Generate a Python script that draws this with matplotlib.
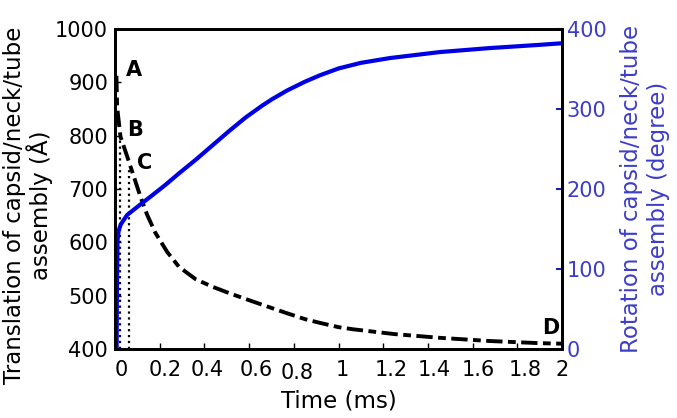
import numpy as np
import matplotlib.pyplot as plt
import matplotlib.transforms as mtransforms

plt.rcParams['font.family'] = ['DejaVu Sans']

# translation of the assembly (left axis)
t_trans = [0.006, 0.009, 0.024, 0.054, 0.084, 0.113, 0.143, 0.18, 0.233, 0.286,
           0.36, 0.434, 0.509, 0.583, 0.617, 0.7, 0.77, 0.85, 0.917, 1.0,
           1.065, 1.25, 1.454, 1.678, 1.9, 2.0]
translation = [912, 854, 798, 761, 723, 686, 652, 618, 582, 554,
               531, 517, 505, 494, 489, 477, 467, 456, 449, 441,
               437, 428, 421, 415, 411, 410]

# rotation of the assembly (right axis)
t_rot = [0.007, 0.008, 0.011, 0.016, 0.026, 0.054, 0.106, 0.166, 0.225, 0.284,
         0.359, 0.434, 0.509, 0.583, 0.658, 0.702, 0.77, 0.85, 0.917, 1.0,
         1.1, 1.23, 1.454, 1.678, 1.9, 2.0]
rotation = [0, 70, 136, 148, 156, 167.5, 179, 192, 205, 219,
            236, 254, 272, 289, 304, 312, 323, 334, 342, 350.5,
            357.5, 363.5, 371, 376, 380, 382]

# dotted markers B and C
t_marks = [0.022, 0.062]
marks_top = [796, 742]

# point labels
point_names = ['A', 'B', 'C', 'D']
point_t = [0.083, 0.09, 0.134, 1.95]
point_y = [923, 811, 748, 439]

xticks = [0, 0.2, 0.4, 0.6, 0.8, 1, 1.2, 1.4, 1.6, 1.8, 2]
xtick_labels = ['0', '0.2', '0.4', '0.6', '0.8', '1', '1.2', '1.4', '1.6', '1.8', '2']
# the reference labels are not centred on their ticks
label_nudge_px = [6, 5, 3, 7, 3, 4, 8, 6, 6, 8, 0]

blue_txt = '#3d3dc8'

fig = plt.figure(figsize=(6.77, 4.18), dpi=100)
ax = fig.add_axes([0.170, 0.165, 0.660, 0.766])
ax2 = ax.twinx()

ax.plot(t_trans, translation, color='black', lw=2.8,
        linestyle=(0, (4.2, 1.4, 2.0, 1.4)), zorder=3)
for tm, top in zip(t_marks, marks_top):
    ax.plot([tm, tm], [400, top], color='black', lw=1.6, linestyle=':')

ax2.plot(t_rot, rotation, color='#0000e6', lw=3.0, solid_capstyle='butt')

for name, tx, ty in zip(point_names, point_t, point_y):
    ax.text(tx, ty, name, fontsize=15, fontweight='bold', ha='center', va='center')

ax.set_xlim(0, 2)
ax.set_ylim(400, 1000)
ax2.set_ylim(0, 400)
ax.set_xticks(xticks)
ax.set_xticklabels(xtick_labels)
ax.set_yticks(np.arange(400, 1001, 100))
ax2.set_yticks(np.arange(0, 401, 100))

ax.tick_params(axis='both', direction='in', length=4, width=1, labelsize=15)
ax.tick_params(axis='x', pad=8)
ax.tick_params(axis='y', pad=5)
ax2.tick_params(axis='y', direction='in', length=4, width=1.5, labelsize=15,
                colors='#2020a0', labelcolor=blue_txt, pad=3.5)

for lab, nudge, txt in zip(ax.get_xticklabels(), label_nudge_px, xtick_labels):
    dy = -2.5 / 100 if txt == '0.8' else 0
    off = mtransforms.ScaledTranslation(nudge / 100, dy, fig.dpi_scale_trans)
    lab.set_transform(lab.get_transform() + off)

for sp in ax.spines.values():
    sp.set_linewidth(2)
for sp in ax2.spines.values():
    sp.set_linewidth(2)

ax.set_xlabel('Time (ms)', fontsize=16.5, labelpad=5)
ax.set_ylabel('Translation of capsid/neck/tube\nassembly (Å)', fontsize=16.5,
              linespacing=1.0)
ax.yaxis.set_label_coords(-0.139, 0.45)
ax2.set_ylabel('Rotation of capsid/neck/tube\nassembly (degree)', fontsize=16.5,
               color=blue_txt, linespacing=1.25)
ax2.yaxis.set_label_coords(1.130, 0.5)

fig.savefig('out.png', dpi=100)
